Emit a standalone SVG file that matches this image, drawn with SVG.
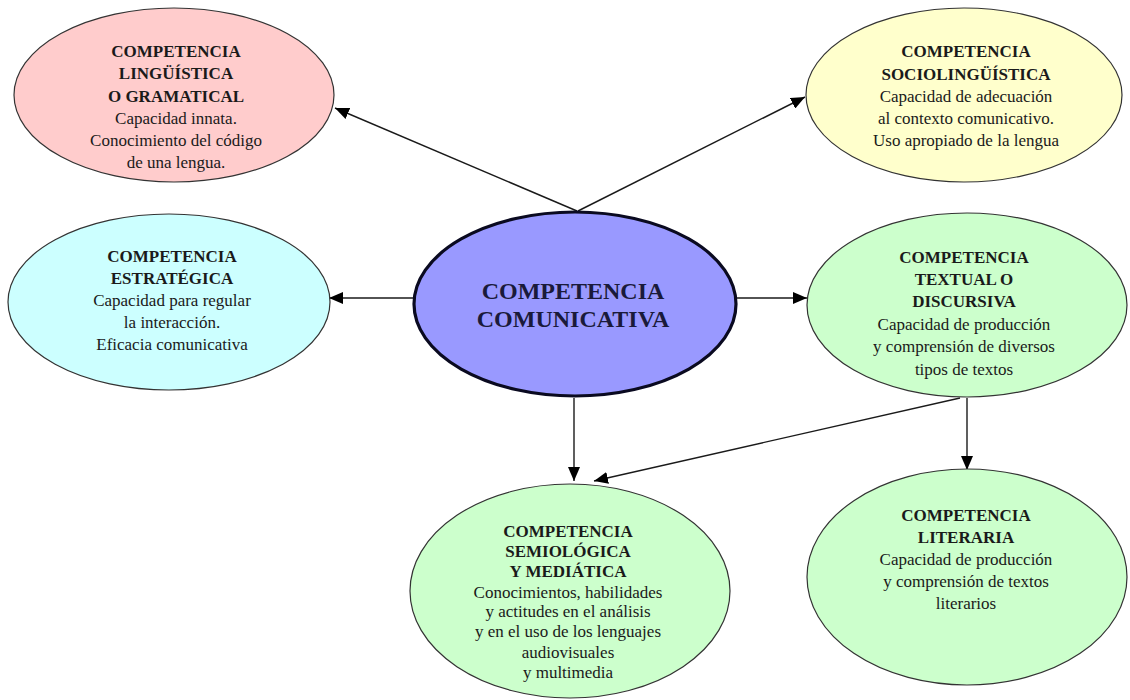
<svg xmlns="http://www.w3.org/2000/svg" width="1130" height="700" viewBox="0 0 1130 700">
<defs>
<marker id="ah" viewBox="0 0 14 12" refX="14" refY="6" markerWidth="14" markerHeight="12" markerUnits="userSpaceOnUse" orient="auto">
<path d="M0,0 L14,6 L0,12 Z" fill="#000"/>
</marker>
<style>
.n{stroke:#333;stroke-width:1.2}
.t{font-family:"Liberation Serif","Times New Roman",serif;font-size:17px;fill:#1a1a1a;text-anchor:middle}
.b{font-weight:bold}
.c{stroke:#1a1a1a;stroke-width:1.4;fill:none;marker-end:url(#ah)}
</style>
</defs>
<rect width="1130" height="700" fill="#fff"/>
<g id="connectors">
<line class="c" x1="577" y1="211" x2="335" y2="108"/>
<line class="c" x1="578" y1="211" x2="805" y2="97"/>
<line class="c" x1="413" y1="298" x2="329" y2="298"/>
<line class="c" x1="736" y1="298" x2="807" y2="298"/>
<line class="c" x1="574" y1="398" x2="574" y2="481"/>
<line class="c" x1="967" y1="398" x2="967" y2="470"/>
<line class="c" x1="960" y1="398" x2="594" y2="481"/>
</g>
<g id="linguistica">
<ellipse class="n" cx="174" cy="95" rx="160" ry="87" fill="#ffcccc"/>
<text class="t b" x="176" y="57">COMPETENCIA</text>
<text class="t b" x="176" y="79">LINGÜÍSTICA</text>
<text class="t b" x="176" y="102">O GRAMATICAL</text>
<text class="t" x="176" y="124">Capacidad innata.</text>
<text class="t" x="176" y="146">Conocimiento del código</text>
<text class="t" x="176" y="168">de una lengua.</text>
</g>
<g id="sociolinguistica">
<ellipse class="n" cx="964" cy="95" rx="158" ry="87" fill="#ffffcc"/>
<text class="t b" x="966" y="57">COMPETENCIA</text>
<text class="t b" x="966" y="80">SOCIOLINGÜÍSTICA</text>
<text class="t" x="966" y="102">Capacidad de adecuación</text>
<text class="t" x="966" y="124">al contexto comunicativo.</text>
<text class="t" x="966" y="146">Uso apropiado de la lengua</text>
</g>
<g id="estrategica">
<ellipse class="n" cx="169" cy="302" rx="161" ry="88" fill="#ccffff"/>
<text class="t b" x="172" y="262">COMPETENCIA</text>
<text class="t b" x="172" y="284">ESTRATÉGICA</text>
<text class="t" x="172" y="306">Capacidad para regular</text>
<text class="t" x="172" y="328">la interacción.</text>
<text class="t" x="172" y="350">Eficacia comunicativa</text>
</g>
<g id="comunicativa">
<ellipse cx="575" cy="304" rx="161" ry="92" fill="#9999ff" stroke="#0a0a20" stroke-width="3.2"/>
<text class="t b" x="573" y="299" style="font-size:24px;fill:#1a1a3a">COMPETENCIA</text>
<text class="t b" x="573" y="327" style="font-size:24px;fill:#1a1a3a">COMUNICATIVA</text>
</g>
<g id="textual">
<ellipse class="n" cx="967" cy="305" rx="160" ry="92" fill="#ccffcc"/>
<text class="t b" x="964" y="263">COMPETENCIA</text>
<text class="t b" x="964" y="285">TEXTUAL O</text>
<text class="t b" x="964" y="307">DISCURSIVA</text>
<text class="t" x="964" y="330">Capacidad de producción</text>
<text class="t" x="964" y="352">y comprensión de diversos</text>
<text class="t" x="964" y="375">tipos de textos</text>
</g>
<g id="semiologica">
<ellipse class="n" cx="570" cy="591" rx="160" ry="107" fill="#ccffcc"/>
<text class="t b" x="568" y="537">COMPETENCIA</text>
<text class="t b" x="568" y="557">SEMIOLÓGICA</text>
<text class="t b" x="568" y="577">Y MEDIÁTICA</text>
<text class="t" x="568" y="598">Conocimientos, habilidades</text>
<text class="t" x="568" y="617">y actitudes en el análisis</text>
<text class="t" x="568" y="637">y en el uso de los lenguajes</text>
<text class="t" x="568" y="658">audiovisuales</text>
<text class="t" x="568" y="678">y multimedia</text>
</g>
<g id="literaria">
<ellipse class="n" cx="967" cy="577" rx="160" ry="108" fill="#ccffcc"/>
<text class="t b" x="966" y="521">COMPETENCIA</text>
<text class="t b" x="966" y="543">LITERARIA</text>
<text class="t" x="966" y="565">Capacidad de producción</text>
<text class="t" x="966" y="587">y comprensión de textos</text>
<text class="t" x="966" y="609">literarios</text>
</g>
</svg>
